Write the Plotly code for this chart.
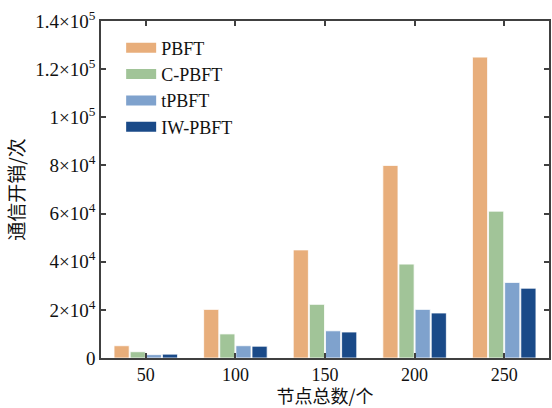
import plotly.graph_objects as go

categories = ["50", "100", "150", "200", "250"]
series_names = ["PBFT", "C-PBFT", "tPBFT", "IW-PBFT"]
pbft = [5100, 20200, 44900, 80000, 125000]
cpbft = [2600, 10000, 22300, 39000, 61000]
tpbft = [1400, 5100, 11300, 20200, 31400]
iwpbft = [1600, 4900, 10800, 18700, 29000]
colors = ["#E8AE7B", "#A1C498", "#7FA2CD", "#1A4A88"]

y_tickvals = [0, 20000, 40000, 60000, 80000, 100000, 120000, 140000]
y_ticktext = ["0", "2×10<sup>4</sup>", "4×10<sup>4</sup>", "6×10<sup>4</sup>",
              "8×10<sup>4</sup>", "1×10<sup>5</sup>", "1.2×10<sup>5</sup>", "1.4×10<sup>5</sup>"]

serif = "Liberation Serif, serif"
cjk = "Noto Sans CJK SC"

fig = go.Figure()
for name, vals, c in zip(series_names, [pbft, cpbft, tpbft, iwpbft], colors):
    fig.add_trace(go.Bar(x=categories, y=vals, name=name, legendgroup=name, showlegend=False,
                         marker=dict(color=c, line=dict(color="rgba(255,255,255,0.8)", width=1))))
# legend entries with wide rectangular swatches, tied to the bar series
for name, c in zip(series_names, colors):
    fig.add_trace(go.Scatter(x=[None], y=[None], mode="lines", name=name, legendgroup=name,
                             line=dict(color=c, width=14)))

fig.update_layout(
    width=552, height=408,
    margin=dict(l=101, r=1, t=21, b=50),
    plot_bgcolor="white", paper_bgcolor="white",
    barmode="group", bargap=0.28, bargroupgap=0.06,
    font=dict(family=serif, size=19, color="#111"),
    legend=dict(x=0.045, y=0.975, xanchor="left", yanchor="top",
                font=dict(family=serif, size=18, color="#111"),
                bgcolor="rgba(0,0,0,0)", tracegroupgap=0, itemwidth=30),
    xaxis=dict(type="category", range=[-0.5, 4.5], showline=True, linecolor="#404040", linewidth=1.5,
               mirror="ticks", ticks="inside", ticklen=5, tickcolor="#404040", tickwidth=1.5,
               tickfont=dict(family=serif, size=18, color="#111"),
               title=dict(text="节点总数/个", font=dict(family=cjk, size=18, color="#111"), standoff=7)),
    yaxis=dict(range=[0, 140000], showline=True, linecolor="#404040", linewidth=1.5,
               mirror="ticks", ticks="inside", ticklen=5, tickcolor="#404040", tickwidth=1.5,
               showgrid=False, zeroline=False,
               tickvals=y_tickvals, ticktext=y_ticktext,
               tickfont=dict(family=serif, size=19, color="#111"),
               title=dict(text="通信开销/次", font=dict(family=cjk, size=19, color="#111"), standoff=6)),
)
fig.write_html("out.html")
